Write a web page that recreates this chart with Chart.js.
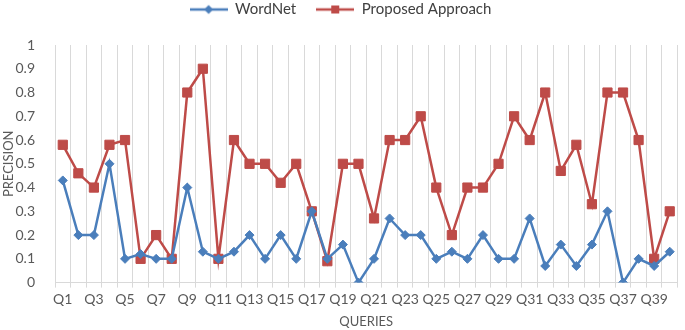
<!DOCTYPE html>
<html>
<head>
<meta charset="utf-8">
<script src="https://cdn.jsdelivr.net/npm/chart.js@4/dist/chart.umd.min.js"></script>
<style>
  body { margin: 0; background: #fff; }
  #chart { display: block; }
</style>
</head>
<body>
<canvas id="chart" width="685" height="330"></canvas>
<script>
// queries Q1..Q40
var queries = []
for (var i = 1; i <= 40; i++) queries.push('Q' + i)

var wordnet = [0.43, 0.20, 0.20, 0.50, 0.10, 0.12, 0.10, 0.10, 0.40, 0.13,
               0.10, 0.13, 0.20, 0.10, 0.20, 0.10, 0.30, 0.10, 0.16, 0.00,
               0.10, 0.27, 0.20, 0.20, 0.10, 0.13, 0.10, 0.20, 0.10, 0.10,
               0.27, 0.07, 0.16, 0.07, 0.16, 0.30, 0.00, 0.10, 0.07, 0.13]

var proposed = [0.58, 0.46, 0.40, 0.58, 0.60, 0.10, 0.20, 0.10, 0.80, 0.90,
                0.10, 0.60, 0.50, 0.50, 0.42, 0.50, 0.30, 0.09, 0.50, 0.50,
                0.27, 0.60, 0.60, 0.70, 0.40, 0.20, 0.40, 0.40, 0.50, 0.70,
                0.60, 0.80, 0.47, 0.58, 0.33, 0.80, 0.80, 0.60, 0.10, 0.30]

var blue = '#4a7ebb'
var red = '#be4b48'
var textColor = '#595959'
var fontFamily = 'Lato, "Open Sans", sans-serif'

// small line + marker picture for the legend, like excel
function legendIcon(color, shape) {
    var c = document.createElement('canvas')
    c.width = 38
    c.height = 12
    var g = c.getContext('2d')
    g.strokeStyle = color
    g.lineWidth = 2.5
    g.beginPath()
    g.moveTo(0, 6)
    g.lineTo(38, 6)
    g.stroke()
    g.fillStyle = color
    g.beginPath()
    if (shape == 'rect') {
        g.rect(15, 2, 8, 8)
    } else {
        g.moveTo(19, 1.5)
        g.lineTo(23.5, 6)
        g.lineTo(19, 10.5)
        g.lineTo(14.5, 6)
        g.closePath()
    }
    g.fill()
    return c
}

var icons = [legendIcon(blue, 'diamond'), legendIcon(red, 'rect')]

// more room under the legend
var legendGap = {
    id: 'legendGap',
    beforeInit: function (ch) {
        var fit = ch.legend.fit
        ch.legend.fit = function () {
            fit.bind(ch.legend)()
            this.height += 18
        }
    }
}

var ctx = document.getElementById('chart').getContext('2d')

var chart = new Chart(ctx, {
    type: 'line',
    data: {
        labels: queries,
        datasets: [{
            label: 'WordNet',
            data: wordnet,
            borderColor: blue,
            backgroundColor: blue,
            borderWidth: 2.5,
            pointStyle: 'rectRot',
            pointRadius: 4.5,
            pointBorderWidth: 1,
            tension: 0,
        }, {
            label: 'Proposed Approach',
            data: proposed,
            borderColor: red,
            backgroundColor: red,
            borderWidth: 2.5,
            pointStyle: 'rect',
            pointRadius: 6.5,
            pointBorderWidth: 1,
            tension: 0,
        }]
    },
    plugins: [legendGap],
    options: {
        responsive: false,
        animation: false,
        layout: { padding: { left: 0, right: 4, top: -18, bottom: 0 } },
        plugins: {
            tooltip: { enabled: false },
            legend: {
                position: 'top',
                labels: {
                    usePointStyle: true,
                    pointStyleWidth: 38,
                    padding: 20,
                    color: '#404040',
                    font: { family: fontFamily, size: 15 },
                    generateLabels: function (ch) {
                        return ch.data.datasets.map(function (ds, i) {
                            return {
                                text: ds.label,
                                pointStyle: icons[i],
                                fillStyle: ds.borderColor,
                                strokeStyle: ds.borderColor,
                                lineWidth: 0,
                                hidden: false,
                                datasetIndex: i,
                                fontColor: '#404040'
                            }
                        })
                    }
                }
            }
        },
        scales: {
            x: {
                offset: true,
                grid: {
                    display: true,
                    offset: true,
                    color: '#d9d9d9',
                    tickLength: 5,
                },
                border: { display: true, color: '#d9d9d9' },
                ticks: {
                    autoSkip: false,
                    maxRotation: 0,
                    color: textColor,
                    font: { family: fontFamily, size: 14 },
                    padding: 3,
                    callback: function (val, idx) {
                        return idx % 2 === 0 ? this.getLabelForValue(val) : ''
                    }
                },
                title: {
                    display: true,
                    text: 'QUERIES',
                    color: textColor,
                    font: { family: fontFamily, size: 13 },
                    padding: { top: 4, bottom: 0 }
                }
            },
            y: {
                min: 0,
                max: 1,
                afterFit: function (scale) { scale.width = 55 },
                grid: { display: false },
                border: { display: false },
                ticks: {
                    stepSize: 0.1,
                    color: textColor,
                    font: { family: fontFamily, size: 14 },
                    padding: 12,
                    callback: function (v) { return String(Math.round(v * 10) / 10) }
                },
                title: {
                    display: true,
                    text: 'PRECISION',
                    color: textColor,
                    font: { family: fontFamily, size: 13 },
                    padding: { top: 1, bottom: 0 }
                }
            }
        }
    }
});
</script>
</body>
</html>
